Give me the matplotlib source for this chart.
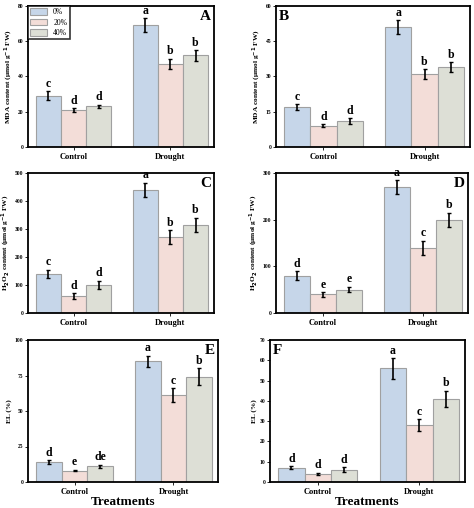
import matplotlib
matplotlib.use("Agg")
import matplotlib.pyplot as plt
import numpy as np

plt.rcParams['font.family'] = ['Liberation Serif', 'DejaVu Serif']
plt.rcParams['font.weight'] = 'bold'

groups = ["Control", "Drought"]
series = ["0%", "20%", "40%"]
colors = ["#c6d6e9", "#f3ddd8", "#dddfd6"]

panels = [
    dict(tag="A", ylabel="MDA content (μmol g$^{-1}$ FW)", ymax=80, step=20,
         vals=[[29, 69], [21, 47], [23, 52]], errs=[[2.5, 4], [1, 3], [1, 3]],
         letters=[["c", "a"], ["d", "b"], ["d", "b"]], tagpos="right", legend=True),
    dict(tag="B", ylabel="MDA content (μmol g$^{-1}$ FW)", ymax=60, step=15,
         vals=[[17, 51], [9, 31], [11, 34]], errs=[[1.2, 3], [0.6, 2], [1.2, 2]],
         letters=[["c", "a"], ["d", "b"], ["d", "b"]], tagpos="left", legend=False),
    dict(tag="C", ylabel="H$_2$O$_2$ content (μmol g$^{-1}$ FW)", ymax=500, step=100,
         vals=[[140, 440], [60, 270], [100, 315]], errs=[[15, 25], [10, 25], [15, 25]],
         letters=[["c", "a"], ["d", "b"], ["d", "b"]], tagpos="right", legend=False),
    dict(tag="D", ylabel="H$_2$O$_2$ content (μmol g$^{-1}$ FW)", ymax=300, step=100,
         vals=[[80, 270], [40, 140], [50, 200]], errs=[[10, 15], [5, 15], [6, 15]],
         letters=[["d", "a"], ["e", "c"], ["e", "b"]], tagpos="right", legend=False),
    dict(tag="E", ylabel="EL (%)", ymax=100, step=25,
         vals=[[14, 85], [8, 61], [11, 74]], errs=[[1.2, 4], [0.6, 5], [1.2, 6]],
         letters=[["d", "a"], ["e", "c"], ["de", "b"]], tagpos="right", legend=False),
    dict(tag="F", ylabel="EL (%)", ymax=70, step=10,
         vals=[[7, 56], [4, 28], [6, 41]], errs=[[0.7, 5], [0.6, 3], [1.2, 4]],
         letters=[["d", "a"], ["d", "c"], ["d", "b"]], tagpos="left", legend=False),
]

fig = plt.figure(figsize=(4.74, 5.08), dpi=100)
W, H = 474, 508
boxes = [(28, 6, 214, 147), (276, 6, 470, 147),
         (28, 173, 214, 313), (276, 173, 468, 313),
         (28, 340, 218, 482), (270, 340, 465, 482)]
x = np.arange(len(groups))
bw = 0.26
for p, (l, t, r, b) in zip(panels, boxes):
    ax = fig.add_axes([l / W, 1 - b / H, (r - l) / W, (b - t) / H])
    for i in range(3):
        xs = x + (i - 1) * bw
        ax.bar(xs, p["vals"][i], bw, color=colors[i], edgecolor="#a0a0a0",
               linewidth=0.8, label=series[i],
               yerr=p["errs"][i], capsize=1.5, error_kw=dict(elinewidth=1.2, capthick=1.0, ecolor="black"))
        for xi, v, e, s in zip(xs, p["vals"][i], p["errs"][i], p["letters"][i]):
            ax.text(xi, v + e + p["ymax"] * 0.01, s, ha="center", va="bottom",
                    fontsize=8.5, fontweight="bold")
    ax.set_xlim(-0.47, 1.45)
    ax.set_ylim(0, p["ymax"])
    ax.set_yticks(np.arange(0, p["ymax"] + 0.1, p["step"]))
    ax.tick_params(axis="y", labelsize=4, length=2, width=0.6, pad=1.5)
    ax.tick_params(axis="x", labelsize=6, length=2, width=0.6, pad=2)
    ax.set_xticks(x)
    ax.set_xticklabels(groups, fontweight="bold")
    ax.set_ylabel(p["ylabel"], fontsize=5.3, fontweight="bold", labelpad=1.5)
    for sp in ax.spines.values():
        sp.set_linewidth(1.3)
    if p["tagpos"] == "right":
        ax.text(0.985, 0.97, p["tag"], transform=ax.transAxes, ha="right", va="top",
                fontsize=11, fontweight="bold")
    else:
        ax.text(0.015, 0.97, p["tag"], transform=ax.transAxes, ha="left", va="top",
                fontsize=11, fontweight="bold")
    if p["legend"]:
        leg = ax.legend(loc="upper left", fontsize=5.5, frameon=True, fancybox=False,
                        borderaxespad=0, handlelength=2.2, handleheight=1.0,
                        borderpad=0.3, labelspacing=0.3)
        leg.get_frame().set_edgecolor("black")
        leg.get_frame().set_linewidth(1.2)
        for txt in leg.get_texts():
            txt.set_fontweight("normal")
    if p["tag"] in ("E", "F"):
        ax.set_xlabel("Treatments", fontsize=9.5, fontweight="bold", labelpad=0)

fig.savefig("out.png", dpi=100)
